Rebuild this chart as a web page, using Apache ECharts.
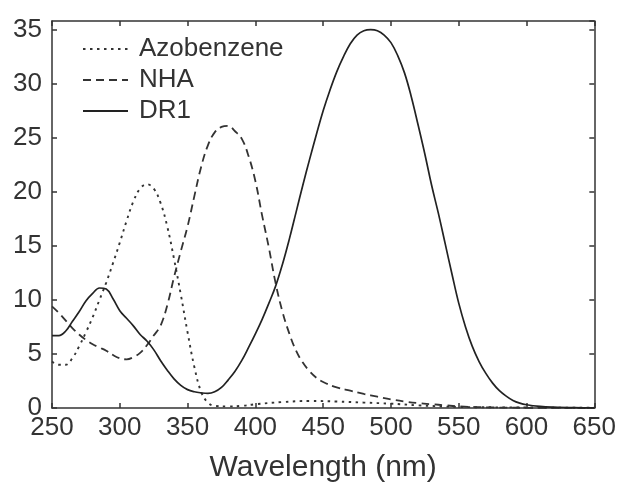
<!DOCTYPE html>
<html>
<head>
<meta charset="utf-8">
<script src="https://cdn.jsdelivr.net/npm/echarts@6/dist/echarts.min.js"></script>
<style>html,body{margin:0;padding:0;background:#fff;}#c{width:619px;height:488px;}</style>
</head>
<body>
<div id="c"></div>
<script>
var xTicks = [250, 300, 350, 400, 450, 500, 550, 600, 650];
var yTicks = [0, 5, 10, 15, 20, 25, 30, 35];
var seriesNames = ['Azobenzene', 'NHA', 'DR1'];

var azoX = [250,255,260,265,270,275,280,285,290,295,300,305,310,315,320,325,330,335,340,345,350,355,360,365,370,380,390,400,420,440,460,480,500,520,550,600,650];
var azoY = [4.3,4.0,4.0,4.6,5.7,7.0,8.4,10.0,11.6,13.4,15.3,17.3,19.1,20.3,20.7,20.3,19.0,16.8,13.8,10.5,7.0,3.8,1.5,0.5,0.2,0.15,0.2,0.35,0.55,0.65,0.6,0.5,0.4,0.25,0.1,0.05,0.02];

var nhaX = [250,255,260,265,270,275,280,285,290,295,300,305,310,315,320,325,330,335,340,345,350,355,360,365,370,375,380,385,390,395,400,405,410,415,420,425,430,435,440,445,450,460,470,480,490,500,510,520,530,540,550,575,600,650];
var nhaY = [9.4,8.8,8.1,7.4,6.8,6.3,5.9,5.6,5.3,4.9,4.6,4.5,4.7,5.1,5.8,6.7,7.6,9.5,12.1,14.5,16.8,19.6,22.3,24.3,25.5,26.0,26.1,25.6,24.9,23.3,21.0,17.8,14.8,11.5,8.9,6.9,5.3,4.2,3.4,2.8,2.4,1.9,1.6,1.3,1.05,0.8,0.6,0.45,0.35,0.25,0.15,0.05,0.02,0];

var drX = [250,255,260,265,270,275,280,285,290,295,300,305,310,315,320,325,330,335,340,345,350,355,360,365,370,375,380,385,390,395,400,405,410,415,420,425,430,435,440,445,450,455,460,465,470,475,480,485,490,495,500,505,510,515,520,525,530,535,540,545,550,555,560,565,570,575,580,585,590,595,600,610,620,635,650];
var drY = [6.7,6.7,7.1,8.0,8.9,9.9,10.6,11.1,11.0,10.1,9.0,8.3,7.6,6.8,6.2,5.4,4.4,3.5,2.7,2.1,1.7,1.5,1.4,1.35,1.5,1.9,2.6,3.4,4.4,5.6,6.85,8.2,9.7,11.3,13.3,15.6,18.1,20.6,23.0,25.3,27.5,29.4,31.1,32.5,33.7,34.5,34.9,35.0,34.9,34.5,33.8,32.6,31.0,28.8,26.2,23.5,20.6,18.0,15.2,12.4,9.7,7.5,5.7,4.3,3.2,2.3,1.6,1.1,0.7,0.45,0.3,0.15,0.08,0.03,0.01];

function pairs(xs, ys) { return xs.map(function (x, i) { return [x, ys[i]]; }); }

var FONT = 'Liberation Sans, Arial, sans-serif';
var INK = '#333';

var chart = echarts.init(document.getElementById('c'), null, {renderer: 'canvas'});
var axisCommon = {
  axisLine: {show: true, onZero: false, lineStyle: {color: INK, width: 1.5}},
  axisTick: {show: true, inside: true, length: 5, lineStyle: {color: INK, width: 1.5}},
  splitLine: {show: false}
};
chart.setOption({
  animation: false,
  backgroundColor: '#fff',
  grid: {left: 52, right: 24, top: 21, bottom: 77, containLabel: false},
  legend: {
    orient: 'vertical', left: 82, top: 35, padding: 0,
    itemWidth: 45, itemHeight: 14, itemGap: 3,
    data: seriesNames,
    itemStyle: {color: 'transparent', borderWidth: 0, opacity: 0},
    textStyle: {fontFamily: FONT, fontSize: 26, lineHeight: 28, color: INK, padding: [0, 0, 0, 6]}
  },
  xAxis: [
    Object.assign({
      type: 'value', min: xTicks[0], max: xTicks[xTicks.length - 1], interval: 50,
      position: 'bottom',
      name: 'Wavelength (nm)', nameLocation: 'middle', nameGap: 45,
      nameTextStyle: {fontFamily: FONT, fontSize: 30, color: INK},
      axisLabel: {fontFamily: FONT, fontSize: 26, color: INK, margin: 7}
    }, axisCommon),
    Object.assign({
      type: 'value', min: xTicks[0], max: xTicks[xTicks.length - 1], interval: 50,
      position: 'top', axisLabel: {show: false}
    }, axisCommon)
  ],
  yAxis: [
    Object.assign({
      type: 'value', min: yTicks[0], max: 35.8, interval: 5,
      position: 'left',
      axisLabel: {fontFamily: FONT, fontSize: 26, color: INK, margin: 10, showMaxLabel: false}
    }, axisCommon),
    Object.assign({
      type: 'value', min: yTicks[0], max: 35.8, interval: 5,
      position: 'right', axisLabel: {show: false}
    }, axisCommon)
  ],
  series: [
    {name: seriesNames[0], type: 'line', smooth: 0.4, symbol: 'none', xAxisIndex: 0, yAxisIndex: 0,
     lineStyle: {color: INK, width: 1.9, type: [2.5, 4.5]}, itemStyle: {color: INK},
     data: pairs(azoX, azoY)},
    {name: seriesNames[1], type: 'line', smooth: 0.4, symbol: 'none', xAxisIndex: 0, yAxisIndex: 0,
     lineStyle: {color: INK, width: 1.8, type: [8, 5]}, itemStyle: {color: INK},
     data: pairs(nhaX, nhaY)},
    {name: seriesNames[2], type: 'line', smooth: 0.4, symbol: 'none', xAxisIndex: 0, yAxisIndex: 0,
     lineStyle: {color: '#222', width: 1.7, type: 'solid'}, itemStyle: {color: '#222'},
     data: pairs(drX, drY)}
  ]
});
</script>
</body>
</html>
